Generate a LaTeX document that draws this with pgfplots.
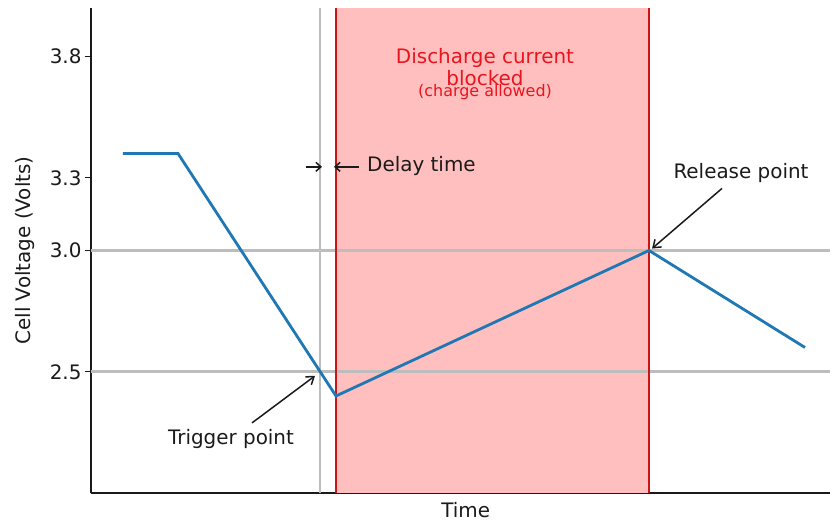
\documentclass[border=0pt]{standalone}
\usepackage{pgfplots}
\pgfplotsset{compat=1.18}
\usepackage{fontspec}
\setmainfont{DejaVu Sans}
\usetikzlibrary{arrows.meta,calc}
\definecolor{mblue}{HTML}{1F77B4}
\definecolor{mred}{HTML}{CC1414}
\definecolor{mfill}{HTML}{FFBFBF}
\definecolor{mgray}{HTML}{BDBDBD}
\definecolor{mtext}{HTML}{E8141E}
\definecolor{mblack}{HTML}{1A1A1A}
\begin{document}
\begin{tikzpicture}
\begin{axis}[
  name=ax,
  width=739bp, height=485bp, scale only axis,
  xmin=91, xmax=830, ymin=2, ymax=4,
  axis x line*=bottom, axis y line*=left,
  axis line style={-, line width=1.4bp, mblack},
  xtick=\empty,
  ytick={2.5,3.0,3.3,3.8},
  yticklabels={2.5,3.0,3.3,3.8},
  tick align=outside, major tick length=6bp,
  tick style={line width=1.4bp, mblack},
  yticklabel style={font=\fontsize{20}{24}\selectfont, text=mblack},
  /pgf/number format/assume math mode=true,
  xlabel={Time}, ylabel={Cell Voltage (Volts)},
  label style={font=\fontsize{20}{24}\selectfont, text=mblack},
  xlabel style={at={(axis description cs:0.507,-0.035)}, anchor=center},
  ylabel style={at={(axis description cs:-0.0893,0.5)}, anchor=center},
]
\addplot[draw=none, fill=mfill] coordinates {(336,2) (336,4) (649,4) (649,2)} -- cycle;
\addplot[mgray, line width=2.5bp] coordinates {(91,3.0) (830,3.0)};
\addplot[mgray, line width=2.5bp] coordinates {(91,2.5) (830,2.5)};
\addplot[mgray, line width=2.8bp] coordinates {(320,2) (320,4)};
\addplot[mred, line width=2.8bp] coordinates {(336,2) (336,4)};
\addplot[mred, line width=2.8bp] coordinates {(649,2) (649,4)};
\addplot[mblue, line width=2.8bp] coordinates {(123,3.4) (178,3.4) (336,2.4) (649,3.0) (805,2.6)};

\draw[mblack, line width=1.5bp, -{Straight Barb[length=5bp,width=9bp]}] (axis cs:306,3.345) -- (axis cs:322,3.345);
\draw[mblack, line width=1.5bp, -{Straight Barb[length=5bp,width=9bp]}] (axis cs:359,3.345) -- (axis cs:334,3.345);
\node[anchor=west, inner sep=0pt, text=mblack, font=\fontsize{20}{24}\selectfont] at (axis cs:367,3.348) {Delay time};

\draw[mblack, line width=1.5bp, -{Straight Barb[length=7bp,width=10bp]}] (axis cs:722,3.256) -- (axis cs:652,3.008);
\node[text=mblack, font=\fontsize{20}{24}\selectfont] at (axis cs:741,3.318) {Release point};

\draw[mblack, line width=1.5bp, -{Straight Barb[length=7bp,width=10bp]}] (axis cs:252,2.289) -- (axis cs:315,2.483);
\node[text=mblack, font=\fontsize{20}{24}\selectfont] at (axis cs:231,2.224) {Trigger point};

\node[text=mtext, font=\fontsize{20}{24}\selectfont] at (axis cs:485,3.795) {Discharge current};
\node[text=mtext, font=\fontsize{20}{24}\selectfont] at (axis cs:485,3.712) {blocked};
\node[text=mtext, font=\fontsize{16}{19}\selectfont] at (axis cs:485,3.655) {(charge allowed)};
\end{axis}
\pgfresetboundingbox
\path[use as bounding box] ($(ax.south west)+(-91bp,-28bp)$) rectangle ($(ax.north east)+(0bp,8bp)$);
\end{tikzpicture}
\end{document}
